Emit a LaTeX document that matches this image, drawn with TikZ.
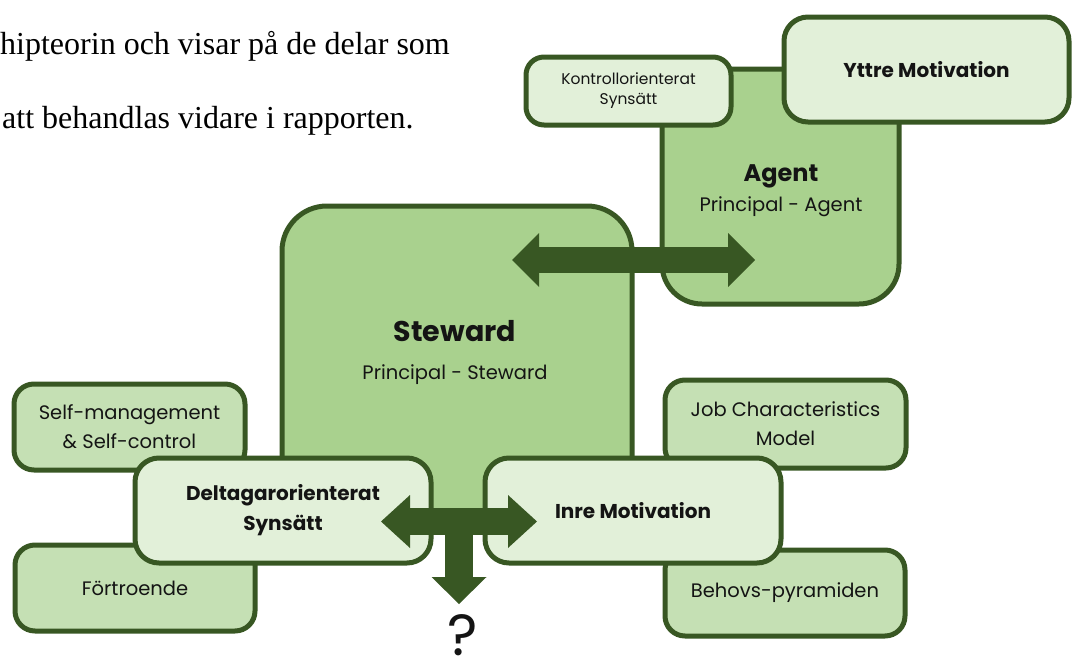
\documentclass[tikz,border=0pt]{standalone}
\usepackage{fontspec}
\setmainfont{Liberation Serif}
\newfontfamily\gothic{Poppins}
\usetikzlibrary{arrows.meta}
\definecolor{dkgreen}{HTML}{385723}
\definecolor{midgreen}{HTML}{A9D18E}
\definecolor{ltgreen}{HTML}{C5E0B4}
\definecolor{palegreen}{HTML}{E2F0D9}
\definecolor{inkblack}{HTML}{141414}
\tikzset{
  box/.style={draw=dkgreen, line width=5pt, rounded corners=20pt, align=center,
    inner sep=0pt, text=inkblack, font=\gothic\fontsize{19.5}{29}\selectfont},
  bigbox/.style={box, fill=midgreen, rounded corners=42pt},
  sidebox/.style={box, fill=ltgreen},
  keybox/.style={box, fill=palegreen, rounded corners=24pt,
    font=\gothic\bfseries\fontsize{20}{30}\selectfont},
  title/.style={inner sep=0pt, text=inkblack, font=\gothic\bfseries\fontsize{24}{28}\selectfont},
  subtitle/.style={inner sep=0pt, text=inkblack, font=\gothic\fontsize{19.5}{22}\selectfont},
  prose/.style={anchor=base west, inner sep=0pt, font=\fontsize{32}{32}\selectfont},
  fatarrow/.style={draw=dkgreen, line width=#1},
}
\begin{document}
\begin{tikzpicture}[x=1pt,y=-1pt]
\useasboundingbox (0,0) rectangle (1072,659);

% running text
\node[prose] (line1) at (0,54) {hipteorin och visar på de delar som};
\node[prose] (line2) at (2,128) {att behandlas vidare i rapporten.};

% large boxes
\node[bigbox, minimum width=350pt, minimum height=324pt, rounded corners=45pt] (steward) at (457,368) {};
\node[bigbox, minimum width=237pt, minimum height=235pt, rounded corners=40pt] (agent) at (780.5,186.5) {};

% top boxes
\node[keybox, minimum width=205pt, minimum height=68pt, rounded corners=18pt,
      font=\gothic\fontsize{15.5}{20}\selectfont] (kontroll) at (628.5,91) {Kontrollorienterat\\Synsätt};
\node[keybox, minimum width=285pt, minimum height=105pt, rounded corners=24pt] (yttre) at (926.5,69.5) {Yttre Motivation};

% texts of the large boxes
\node[title] (agentT) at (781,176) {Agent};
\node[subtitle] (agentS) at (781,207) {Principal - Agent};
\node[title, font=\gothic\bfseries\fontsize{28.5}{30}\selectfont] (stewardT) at (455,331) {Steward};
\node[subtitle] (stewardS) at (455,375) {Principal - Steward};

% left side boxes
\node[sidebox, minimum width=231pt, minimum height=86pt] (self) at (129.5,427) {Self-management\\\& Self-control};
\node[sidebox, minimum width=240pt, minimum height=86pt] (fort) at (135,588) {Förtroende};
\node[keybox, minimum width=296pt, minimum height=105pt] (delta) at (283,510.5) {Deltagarorienterat\\Synsätt};

% right side boxes
\node[sidebox, minimum width=241pt, minimum height=88pt] (job) at (785.5,424) {Job Characteristics\\Model};
\node[sidebox, minimum width=240pt, minimum height=86pt] (behov) at (785,593) {Behovs-pyramiden};
\node[keybox, minimum width=296pt, minimum height=105pt] (inre) at (633,510.5) {Inre Motivation};

% arrows
\coordinate (saL) at (512,260);
\coordinate (saR) at (755,260);
\draw[fatarrow=26pt,
  {Triangle[length=27pt,width=54pt,line width=0pt]}-{Triangle[length=27pt,width=54pt,line width=0pt]}]
  (saL) -- (saR);

\coordinate (crossL) at (381,521.5);
\coordinate (crossR) at (537,521.5);
\coordinate (crossC) at (459,521.5);
\coordinate (crossD) at (459,604);
\draw[fatarrow=27pt,
  {Triangle[length=29pt,width=53pt,line width=0pt]}-{Triangle[length=29pt,width=53pt,line width=0pt]}]
  (crossL) -- (crossR);
\draw[fatarrow=28pt, -{Triangle[length=27pt,width=55pt,line width=0pt]}]
  (crossC) -- (crossD);

% question mark
\node[anchor=base, inner sep=0pt, text=inkblack, font=\gothic\fontsize{58}{58}\selectfont] (qm) at (463,655) {?};
\end{tikzpicture}
\end{document}
